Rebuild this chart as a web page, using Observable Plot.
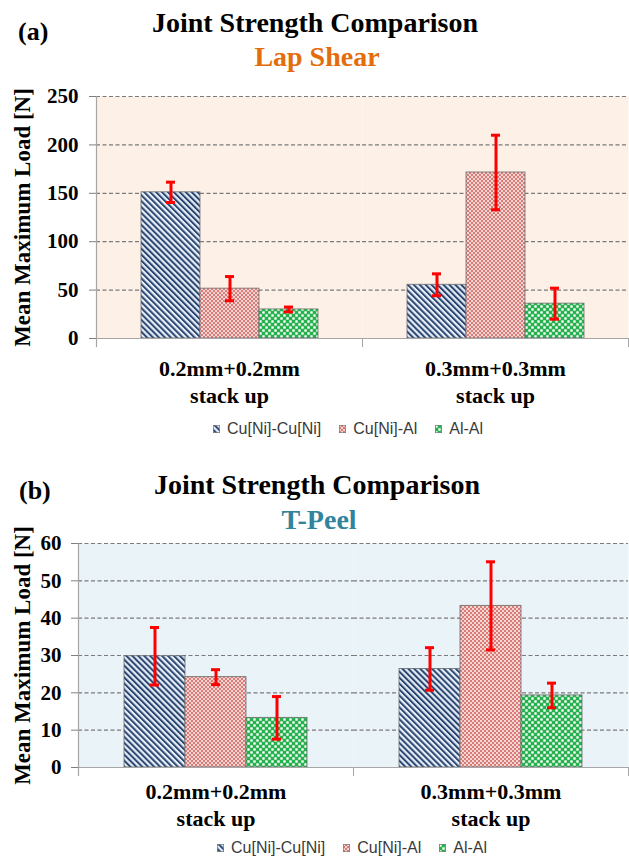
<!DOCTYPE html>
<html>
<head>
<meta charset="utf-8">
<script src="https://cdn.jsdelivr.net/npm/d3@7"></script>
<script src="https://cdn.jsdelivr.net/npm/@observablehq/plot@0.6"></script>
<style>
  body { margin: 0; background: #fff; }
  #page { position: relative; width: 629px; height: 858px; overflow: hidden; font-family: "Liberation Serif", serif; background: #fff; }
  .t { position: absolute; white-space: nowrap; font-weight: bold; line-height: 1; font-family: "Liberation Serif", serif; }
  .c { transform: translateX(-50%); }
  .chart { position: absolute; left: 0; }
  .legend { position: absolute; display: flex; align-items: center; font-family: "Liberation Sans", sans-serif; font-size: 16px; color: #3a3a3a; line-height: 1; }
  .legend .item { display: flex; align-items: center; margin-right: 18px; }
  .legend svg { margin-right: 7px; display: block; }
</style>
</head>
<body>
<svg width="0" height="0" style="position:absolute">
  <defs>
    <pattern id="pStripe" width="4.2" height="4.2" patternUnits="userSpaceOnUse" patternTransform="rotate(-45)">
      <rect width="4.2" height="4.2" fill="#e6eef8"/>
      <rect width="2.0" height="4.2" fill="#2b4571"/>
    </pattern>
    <pattern id="pDots" width="4" height="4" patternUnits="userSpaceOnUse">
      <rect width="4" height="4" fill="#d97c78"/>
      <circle cx="1" cy="1" r="0.9" fill="#ffffff"/>
      <circle cx="3" cy="3" r="0.9" fill="#ffffff"/>
    </pattern>
    <pattern id="pCheck" width="6" height="6" patternUnits="userSpaceOnUse">
      <rect width="6" height="6" fill="#25b14d"/>
      <rect x="0.3" y="0.3" width="2.4" height="2.4" fill="#ffffff"/>
      <rect x="3.3" y="3.3" width="2.4" height="2.4" fill="#ffffff"/>
    </pattern>
  </defs>
</svg>
<div id="page"></div>
<script>
// ---- data ----
const categories = ["0.2mm+0.2mm\nstack up", "0.3mm+0.3mm\nstack up"];
const series = ["Cu[Ni]-Cu[Ni]", "Cu[Ni]-Al", "Al-Al"];

// Lap shear mean maximum load [N] per series, for each stack up
const lapCuCu = [151, 55.5];
const lapCuAl = [51.5, 171.5];
const lapAlAl = [30, 36];
// Lap shear error (half range)
const lapCuCuErr = [10.5, 11.3];
const lapCuAlErr = [12.5, 38.5];
const lapAlAlErr = [2.5, 16];

// T-peel mean maximum load [N]
const peelCuCu = [29.8, 26.4];
const peelCuAl = [24.2, 43.3];
const peelAlAl = [13.3, 19.3];
// T-peel error
const peelCuCuErr = [7.7, 5.7];
const peelCuAlErr = [2.0, 11.8];
const peelAlAlErr = [5.7, 3.3];

const lapTicks = [0, 50, 100, 150, 200, 250];
const peelTicks = [0, 10, 20, 30, 40, 50, 60];

const patterns = ["url(#pStripe)", "url(#pDots)", "url(#pCheck)"];

function buildRows(means, errs) {
  const rows = [];
  categories.forEach((c, ci) => {
    series.forEach((s, si) => {
      rows.push({category: c, series: s, mean: means[si][ci], err: errs[si][ci]});
    });
  });
  return rows;
}

function panel(o) {
  const rows = buildRows(o.means, o.errs);
  const plotH = o.height - o.marginTop - o.marginBottom;
  const axisStroke = "#a6a6a6";
  return Plot.plot({
    width: 629,
    height: o.height,
    marginLeft: o.marginLeft,
    marginRight: 1,
    marginTop: o.marginTop,
    marginBottom: o.marginBottom,
    style: {fontFamily: "Liberation Serif, serif", fontWeight: "bold", color: "#000", background: "transparent", overflow: "visible"},
    fx: {domain: categories, padding: 0, label: null},
    x: {domain: series, paddingInner: 0, paddingOuter: 0.75, axis: null},
    y: {domain: [0, o.ticks[o.ticks.length - 1]]},
    color: {domain: series, range: patterns},
    marks: [
      Plot.frame({fill: o.bg, stroke: null}),
      Plot.gridY({ticks: o.ticks.slice(1), stroke: "#7a7a7a", strokeOpacity: 1, strokeWidth: 1.2, strokeDasharray: "4,2.5"}),
      Plot.barY(rows, {fx: "category", x: "series", y: "mean", fill: "series", stroke: "#6a6a6a", strokeWidth: 0.8}),
      Plot.ruleY([0], {stroke: axisStroke, strokeWidth: 1.2}),
      Plot.frame({anchor: "left", fx: [categories[0]], stroke: axisStroke, strokeWidth: 1.2, insetBottom: -8}),
      Plot.frame({anchor: "left", stroke: axisStroke, insetTop: plotH, insetBottom: -8}),
      Plot.frame({anchor: "right", stroke: axisStroke, insetTop: plotH, insetBottom: -8}),
      Plot.ruleX(rows, {fx: "category", x: "series", y1: d => d.mean - d.err, y2: d => d.mean + d.err, stroke: "#ff0000", strokeWidth: 3}),
      Plot.tickY(rows, {fx: "category", x: "series", y: d => d.mean - d.err, stroke: "#ff0000", strokeWidth: 3, insetLeft: o.capInset, insetRight: o.capInset}),
      Plot.tickY(rows, {fx: "category", x: "series", y: d => d.mean + d.err, stroke: "#ff0000", strokeWidth: 3, insetLeft: o.capInset, insetRight: o.capInset}),
      Plot.axisY({ticks: o.ticks, tickSize: 7, tickPadding: o.tickPadding, stroke: "#7f7f7f", fill: "#000", fontSize: 21, fontWeight: "bold", label: null}),
      Plot.axisY({ticks: [], tickSize: 0, label: "Mean Maximum Load [N]", labelAnchor: "center", labelArrow: "none", labelOffset: o.labelOffset, fontSize: 23, fontWeight: "bold", fill: "#000"}),
      Plot.axisFx({anchor: "bottom", tickSize: 0, tickPadding: o.fxPadding, fontSize: 22, fontWeight: "bold", lineHeight: 1.2, fill: "#000", label: null})
    ]
  });
}

const page = document.getElementById("page");

function addText(txt, left, top, size, color, center) {
  const d = document.createElement("div");
  d.className = "t" + (center ? " c" : "");
  d.textContent = txt;
  d.style.left = left + "px";
  d.style.top = top + "px";
  d.style.fontSize = size + "px";
  d.style.color = color;
  page.appendChild(d);
}

function addLegend(left, top) {
  const lg = document.createElement("div");
  lg.className = "legend";
  lg.style.left = left + "px";
  lg.style.top = top + "px";
  series.forEach((s, i) => {
    const it = document.createElement("div");
    it.className = "item";
    it.innerHTML = `<svg width="7" height="8"><rect x="0.3" y="0.3" width="6.4" height="7.4" fill="${patterns[i]}" stroke="#666" stroke-width="0.6"/></svg><span>${s}</span>`;
    lg.appendChild(it);
  });
  page.appendChild(lg);
}

// Panel (a)
addText("(a)", 18, 19, 26, "#000", false);
addText("Joint Strength Comparison", 315, 8.5, 28, "#000", true);
addText("Lap Shear", 317, 42.5, 28, "#e46c0a", true);
const a = panel({
  means: [lapCuCu, lapCuAl, lapAlAl], errs: [lapCuCuErr, lapCuAlErr, lapAlAlErr],
  ticks: lapTicks, bg: "#fdf1e7", height: 330, marginTop: 16, marginBottom: 72, marginLeft: 95,
  tickPadding: 11, fxPadding: 19, labelOffset: 83, capInset: 25
});
a.classList.add("chart");
a.style.top = "80px";
page.appendChild(a);
addLegend(213, 421);

// Panel (b)
addText("(b)", 19, 478, 26, "#000", false);
addText("Joint Strength Comparison", 317, 470.5, 28, "#000", true);
addText("T-Peel", 319, 505.5, 28, "#31849b", true);
const b = panel({
  means: [peelCuCu, peelCuAl, peelAlAl], errs: [peelCuCuErr, peelCuAlErr, peelAlAlErr],
  ticks: peelTicks, bg: "#eaf3f8", height: 310, marginTop: 23, marginBottom: 63, marginLeft: 77,
  tickPadding: 10, fxPadding: 13, labelOffset: 65, capInset: 26
});
b.classList.add("chart");
b.style.top = "520px";
page.appendChild(b);
addLegend(217, 840);
</script>
</body>
</html>
